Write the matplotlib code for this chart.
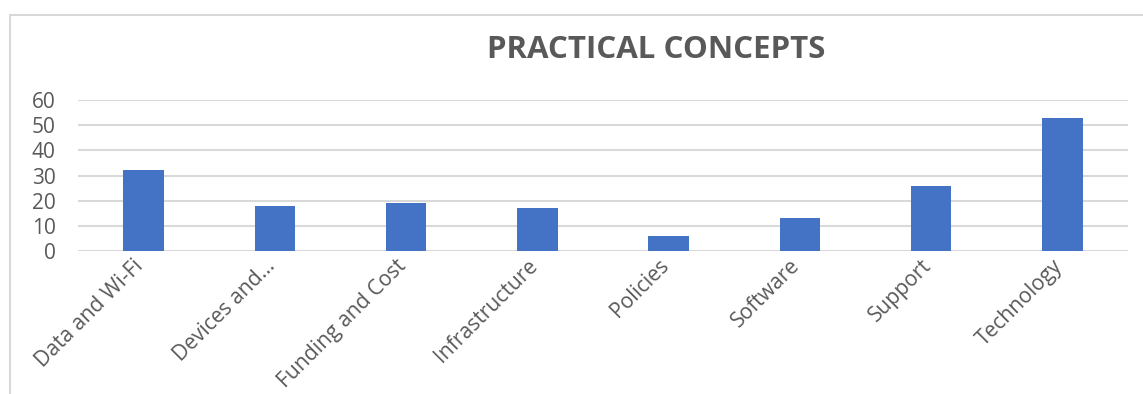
import matplotlib
matplotlib.use("Agg")
import matplotlib.pyplot as plt
from matplotlib.patches import Rectangle
from matplotlib.transforms import ScaledTranslation

categories = ["Data and Wi-Fi", "Devices and...", "Funding and Cost", "Infrastructure",
              "Policies", "Software", "Support", "Technology"]
counts = [32, 18, 19, 17, 6, 13, 26, 53]
y_ticks = [0, 10, 20, 30, 40, 50, 60]
title = "PRACTICAL CONCEPTS"

text_color = "#595959"
grid_color = "#D9D9D9"
bar_color = "#4472C4"

plt.rcParams["font.family"] = ["Open Sans", "DejaVu Sans"]

fig = plt.figure(figsize=(11.43, 3.94), dpi=100)
fig.patch.set_facecolor("white")

# chart frame (top and left edges visible)
fig.add_artist(Rectangle((10 / 1143, -0.1), 1.2, 1.1 - 15 / 394, transform=fig.transFigure,
                         fill=False, edgecolor=grid_color, linewidth=1.5))

ax = fig.add_axes([78 / 1143, 1 - 251 / 394, (1128 - 78) / 1143, (251 - 100) / 394])
x = list(range(len(categories)))
ax.bar(x, counts, width=0.31, color=bar_color, zorder=3)
ax.set_xlim(-0.5, len(categories) - 0.5)
ax.set_ylim(0, 60)
ax.set_yticks(y_ticks)
ax.set_yticklabels([str(v) for v in y_ticks], color=text_color, fontsize=15)
ax.tick_params(axis="y", length=0, pad=16)
ax.tick_params(axis="x", length=0, pad=15)
ax.set_xticks(x)
ax.set_xticklabels(categories, rotation=45, ha="right", va="center",
                   rotation_mode="anchor", color=text_color, fontsize=15.2)
shift = ScaledTranslation(-3 / 100, 9 / 100, fig.dpi_scale_trans)
for lbl in ax.get_xticklabels():
    lbl.set_transform(lbl.get_transform() + shift)
ax.grid(axis="y", color=grid_color, linewidth=1.5, zorder=0)
for s in ax.spines.values():
    s.set_visible(False)

fig.text(656 / 1143, 1 - 50 / 394, title, ha="center", va="center",
         fontsize=22.5, fontweight="bold", color=text_color)

fig.savefig("out.png", dpi=100, facecolor="white")
